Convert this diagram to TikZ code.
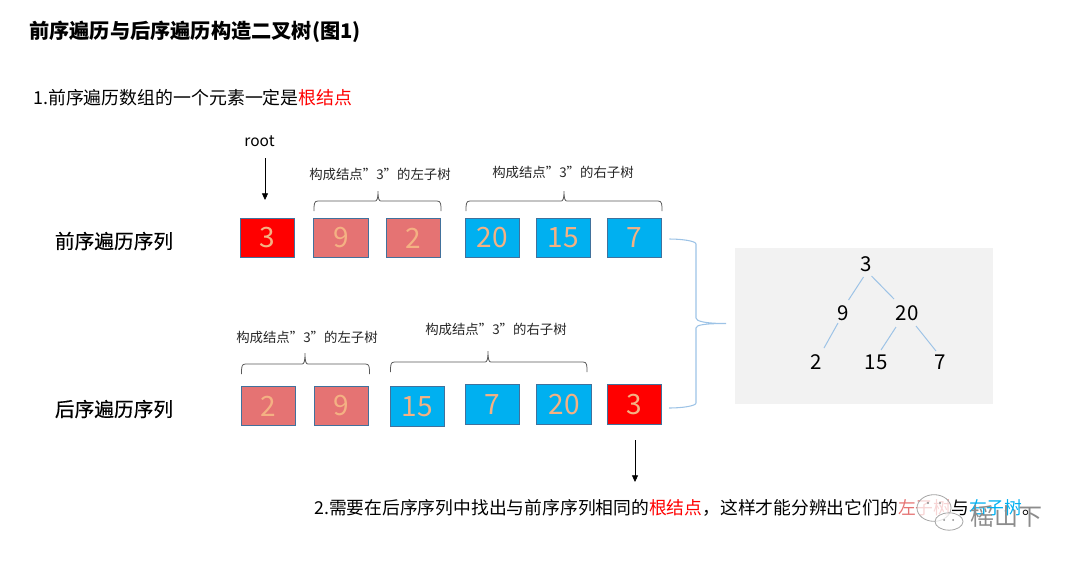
\documentclass[tikz,border=0pt]{standalone}
\usepackage{fontspec}
\setmainfont{Noto Sans CJK SC}
\newfontfamily\semifont[FakeBold=0.35]{Noto Sans CJK SC}
\usetikzlibrary{arrows.meta,shapes.geometric}
\newcommand{\pxfont}[1]{\fontsize{\dimexpr#1pt*3/4\relax}{\dimexpr#1pt*9/10\relax}\selectfont}
\definecolor{cred}{HTML}{FF0000}
\definecolor{cpink}{HTML}{E57373}
\definecolor{cblue}{HTML}{00B0F0}
\definecolor{cnum}{HTML}{F4B183}
\definecolor{cedge}{HTML}{41719C}
\definecolor{cline}{HTML}{9DC3E6}
\definecolor{cbrace}{HTML}{595959}
\tikzset{
  x=0.75pt,y=-0.75pt,
  cell/.style={draw=cedge,line width=0.8pt,minimum width=41pt,minimum height=29.5pt,inner sep=0pt,text=cnum,font=\pxfont{28}},
  redcell/.style={cell,fill=cred},
  pinkcell/.style={cell,fill=cpink},
  bluecell/.style={cell,fill=cblue},
  lab/.style={inner sep=0pt,font=\pxfont{13.4},text=black!85},
  head/.style={inner sep=0pt,font=\pxfont{19.7}\semifont,text=black},
  sent/.style={inner sep=0pt,anchor=west,font=\pxfont{17.9},text=black},
  treenum/.style={inner sep=0pt,font=\pxfont{20.5},text=black},
  treeline/.style={draw=cline,line width=0.75pt},
  curly/.style={draw=cbrace,line width=0.6pt},
  bigcurly/.style={draw=cline,line width=0.8pt},
  pointer/.style={draw=black,line width=0.6pt,-{Triangle[length=5pt,width=4.5pt]}},
  bubble/.style={ellipse,draw=black!35,line width=0.6pt,fill=white,fill opacity=0.7,inner sep=0pt},
  wmark/.style={inner sep=0pt,font=\pxfont{24},text=black!45},
}
\begin{document}
\begin{tikzpicture}
\useasboundingbox (0,0) rectangle (1080,562);
\node[inner sep=0pt,anchor=west,font=\pxfont{20.2}\bfseries] (title) at (29,32) {前序遍历与后序遍历构造二叉树(图1)};
\node[sent] (s1) at (33,98) {1.前序遍历数组的一个元素一定是\textcolor{cred}{根结点}};
\node[inner sep=0pt,font=\pxfont{15.5}] (root) at (259.5,141) {root};
\coordinate (rootend) at (265,200);
\draw[pointer] (265,158) -- (rootend);

\node[head] (pre) at (114,241) {前序遍历序列};
\node[head] (post) at (114,409) {后序遍历序列};

\node[redcell]  (a1) at (267.5,238) {\raisebox{-0.75pt}{3}};
\node[pinkcell] (a2) at (341,238) {\raisebox{-0.75pt}{9}};
\node[pinkcell] (a3) at (413.5,238) {\raisebox{-0.75pt}{2}};
\node[bluecell] (a4) at (492.5,238) {\raisebox{-0.75pt}{20}};
\node[bluecell] (a5) at (563.5,238) {\raisebox{-0.75pt}{15}};
\node[bluecell] (a6) at (634.5,238) {\raisebox{-0.75pt}{7}};

\node[pinkcell] (b1) at (268.5,406) {\raisebox{-0.75pt}{2}};
\node[pinkcell] (b2) at (341.5,406) {\raisebox{-0.75pt}{9}};
\node[bluecell] (b3) at (417.5,406.5) {\raisebox{-0.75pt}{15}};
\node[bluecell] (b4) at (492.5,404.5) {\raisebox{-0.75pt}{7}};
\node[bluecell] (b5) at (564,404.5) {\raisebox{-0.75pt}{20}};
\node[redcell]  (b6) at (634.5,404.5) {\raisebox{-0.75pt}{3}};

\node[lab] (l1) at (380,174) {构成结点”3”的左子树};
\node[lab] (l2) at (563,172) {构成结点”3”的右子树};
\node[lab] (l3) at (307,337) {构成结点”3”的左子树};
\node[lab] (l4) at (496,329.5) {构成结点”3”的右子树};

\draw[curly] (314,211) .. controls (314,204) and (314,201) .. (318,201) -- (375,201) .. controls (377,201) and (378,199) .. (378,191) .. controls (378,199) and (379,201) .. (381,201) -- (437,201) .. controls (441,201) and (441,204) .. (441,211);
\draw[curly] (466,211) .. controls (466,204) and (466,201) .. (470,201) -- (561,201) .. controls (563,201) and (564,199) .. (564,191) .. controls (564,199) and (565,201) .. (567,201) -- (658,201) .. controls (662,201) and (662,204) .. (662,211);
\draw[curly] (241.5,374) .. controls (241.5,367) and (241.5,364) .. (245.5,364) -- (302,364) .. controls (304,364) and (305,362) .. (305,353) .. controls (305,362) and (306,364) .. (308,364) -- (365.5,364) .. controls (369.5,364) and (369.5,367) .. (369.5,374);
\draw[curly] (390.5,372) .. controls (390.5,365) and (390.5,362) .. (394.5,362) -- (485,362) .. controls (487,362) and (488,360) .. (488,351) .. controls (488,360) and (489,362) .. (491,362) -- (583,362) .. controls (587,362) and (587,365) .. (587,372);

\draw[bigcurly] (a6.east) ++(7,1) .. controls (682,239) and (696,241) .. (696,244) -- (696,318) .. controls (696,321) and (704,323.5) .. (726,323.5) .. controls (704,323.5) and (696,325) .. (696,328) -- (696,403) .. controls (696,406) and (682,408) .. (669,408);

\fill[black!5] (735,248) rectangle (993,404);
\node[treenum] (t3) at (866,264) {3};
\node[treenum] (t9) at (843,313) {9};
\node[treenum] (t20) at (907,313) {20};
\node[treenum] (t2) at (816,362) {2};
\node[treenum] (t15) at (876,362) {15};
\node[treenum] (t7) at (940,362) {7};
\draw[treeline] (t3) ++(-2.5,13) -- (848.5,300);
\draw[treeline] (t3) ++(5.5,12) -- (894,299);
\draw[treeline] (t9) ++(-5,10) -- (824,348);
\draw[treeline] (t20) ++(-11,14) -- (881,350);
\draw[treeline] (t20) ++(9,13) -- (936,351);

\coordinate (arrstart) at (635,440);
\draw[pointer] (arrstart) -- (635,482);
\node[sent,font=\pxfont{17.78}] (s2) at (314,508) {2.需要在后序序列中找出与前序序列相同的\textcolor{cred}{根结点}，这样才能分辨出它们的\textcolor{cpink}{左子树}与\textcolor{cblue}{右子树}。};

% watermark
\node[bubble,minimum width=25.5pt,minimum height=20pt] (bub1) at (934,508) {};
\node[bubble,minimum width=21pt,minimum height=13pt] (bub2) at (949,521.5) {};
\fill[black!45] (928,503) circle (1.2) (940,503) circle (1.2) (944,520) circle (1) (953,520) circle (1);
\node[wmark] (wm) at (1006,516.5) {榣山下};
\end{tikzpicture}
\end{document}
